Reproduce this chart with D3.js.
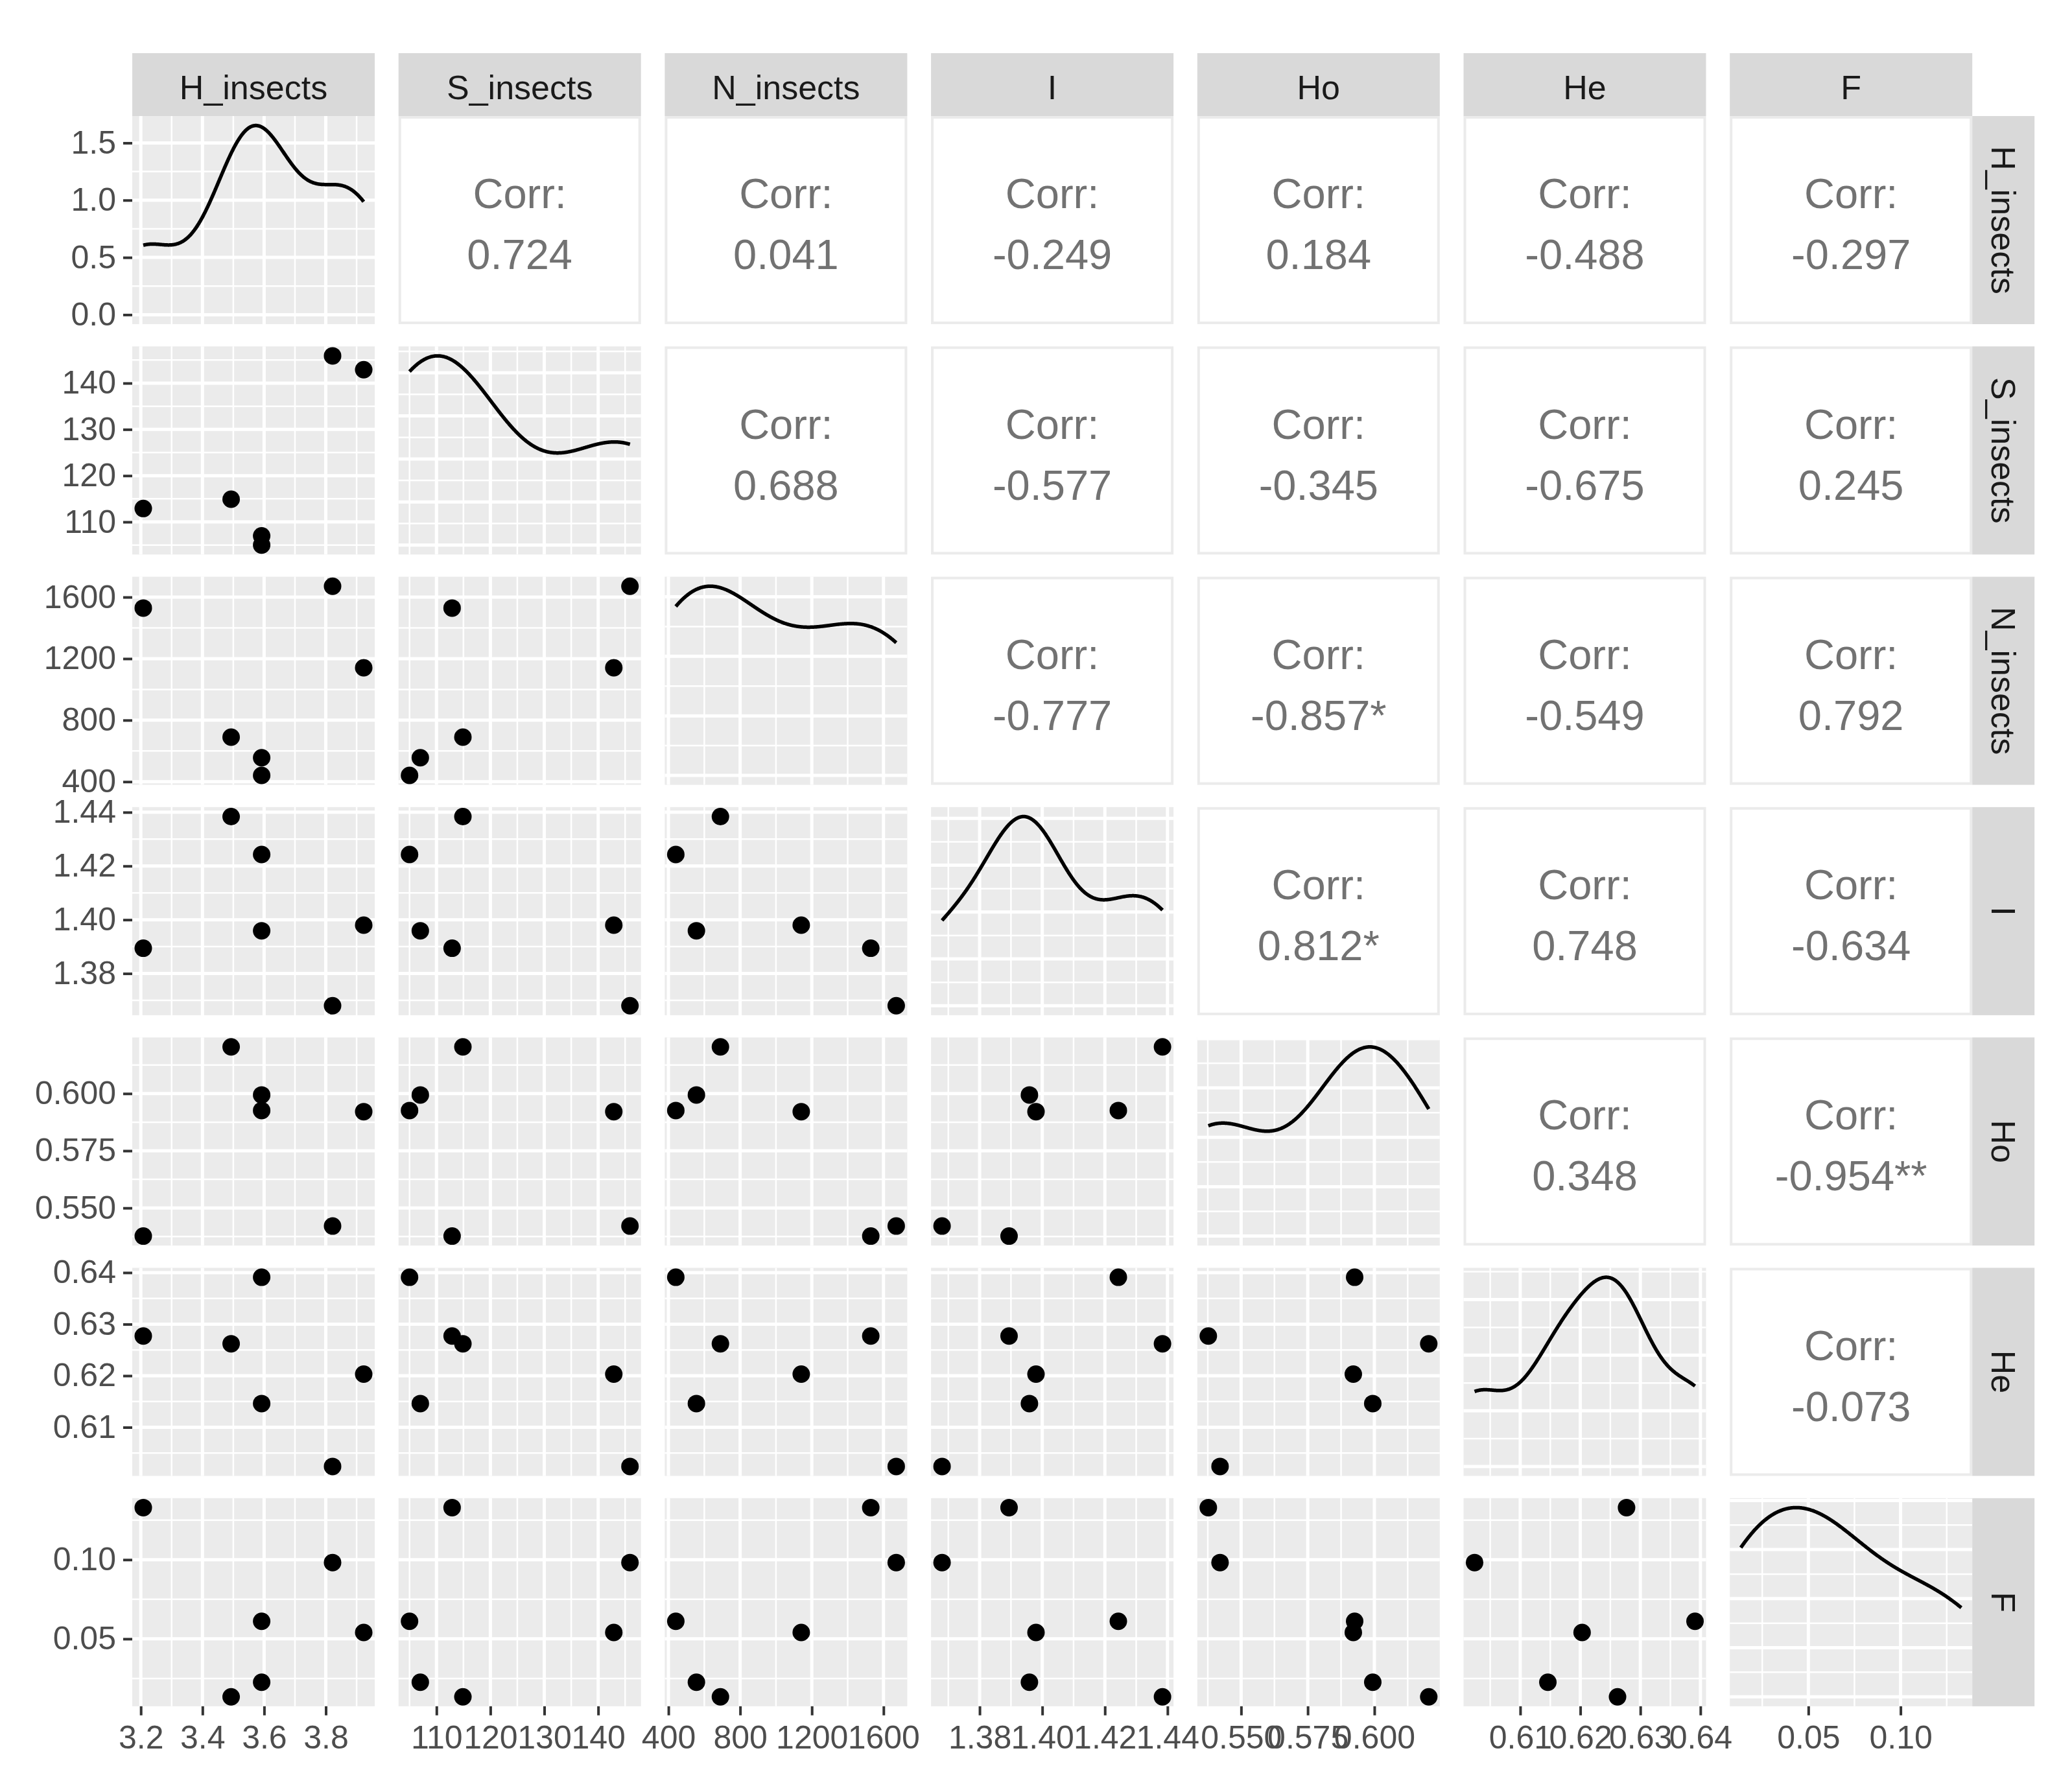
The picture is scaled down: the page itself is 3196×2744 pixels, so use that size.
<!DOCTYPE html>
<html>
<head>
<meta charset="utf-8">
<script src="https://cdn.jsdelivr.net/npm/d3@7"></script>
<style>
body { margin: 0; background: #fff; }
text { font-family: "Liberation Sans", Arial, Helvetica, sans-serif; }
</style>
</head>
<body>
<script>
var W = 3196, H = 2744;

// one value per site, same order in every array
var varNames = ['H_insects', 'S_insects', 'N_insects', 'I', 'Ho', 'He', 'F'];
var H_insects = [3.208, 3.493, 3.592, 3.592, 3.822, 3.923];
var S_insects = [112.9, 114.9, 107.0, 105.0, 145.9, 142.9];
var N_insects = [1529, 690, 556, 441, 1671, 1141];
var I_div = [1.3894, 1.4384, 1.3959, 1.4243, 1.3680, 1.3980];
var Ho = [0.5377, 0.6204, 0.5994, 0.5926, 0.5421, 0.5921];
var He = [0.6277, 0.6262, 0.6146, 0.6391, 0.6024, 0.6203];
var F = [0.1329, 0.0134, 0.0226, 0.0611, 0.0982, 0.0540];

// tick labels
var hTicks = ['3.2', '3.4', '3.6', '3.8'];
var sTicks = ['110', '120', '130', '140'];
var nTicks = ['400', '800', '1200', '1600'];
var iTicks = ['1.38', '1.40', '1.42', '1.44'];
var hoTicks = ['0.550', '0.575', '0.600'];
var heTicks = ['0.61', '0.62', '0.63', '0.64'];
var fTicks = ['0.05', '0.10'];
var densTicks = ['0.0', '0.5', '1.0', '1.5']; // y axis of the first diagonal

// upper triangle, row by row
var corrLabels = ['0.724', '0.041', '-0.249', '0.184', '-0.488', '-0.297',
    '0.688', '-0.577', '-0.345', '-0.675', '0.245',
    '-0.777', '-0.857*', '-0.549', '0.792',
    '0.812*', '0.748', '-0.634',
    '0.348', '-0.954**',
    '-0.073'];

var cols = [H_insects, S_insects, N_insects, I_div, Ho, He, F];
var ticks = [hTicks, sTicks, nTicks, iTicks, hoTicks, heTicks, fTicks];

// layout
var left0 = 204, stepX = 410.7, pw = 374,
    top0 = 179, stepY = 355.3, ph = 321,
    stripH = 97, stripW = 96,
    r = 13.5;

var bg = '#EBEBEB', stripFill = '#D9D9D9';

var svg = d3.select('body').append('svg')
    .attr('width', W)
    .attr('height', H);

svg.append('rect').attr('width', W).attr('height', H).attr('fill', '#fff');

function padded(ext) {
    var pad = (ext[1] - ext[0]) * 0.05;
    return [ext[0] - pad, ext[1] + pad];
}

var xScales = cols.map(function(v){
    return d3.scaleLinear().domain(padded(d3.extent(v))).range([0, pw]);
});
var yScales = cols.map(function(v){
    return d3.scaleLinear().domain(padded(d3.extent(v))).range([ph, 0]);
});

function minorBreaks(major, domain) {
    var step = major[1] - major[0];
    var ext = [major[0] - step].concat(major, [major[major.length - 1] + step]);
    var out = [];
    for (var i = 0; i < ext.length - 1; i++) out.push((ext[i] + ext[i + 1]) / 2);
    var lo = Math.min(domain[0], domain[1]), hi = Math.max(domain[0], domain[1]);
    return out.filter(function(d){ return d >= lo && d <= hi; });
}

// breaks the way ggplot picks them (labeling::extended)
function extendedBreaks(dmin, dmax, m) {
    var Q = [1, 5, 2, 2.5, 4, 3], w = [0.25, 0.2, 0.5, 0.05];
    var n = Q.length, eps = 1e-10, best = null, bestScore = -2;
    function mod(a, b) { return ((a % b) + b) % b; }
    function simplicity(i, j, lmin, lmax, lstep) {
        var v = ((mod(lmin, lstep) < eps || lstep - mod(lmin, lstep) < eps) && lmin <= 0 && lmax >= 0) ? 1 : 0;
        return 1 - i / (n - 1) - j + v;
    }
    function simplicityMax(i, j) { return 1 - i / (n - 1) - j + 1; }
    function coverage(lmin, lmax) {
        var rg = dmax - dmin;
        return 1 - 0.5 * (Math.pow(dmax - lmax, 2) + Math.pow(dmin - lmin, 2)) / Math.pow(0.1 * rg, 2);
    }
    function coverageMax(span) {
        var rg = dmax - dmin;
        if (span > rg) {
            var half = (span - rg) / 2;
            return 1 - 0.5 * (2 * half * half) / Math.pow(0.1 * rg, 2);
        }
        return 1;
    }
    function density(k, lmin, lmax) {
        var rr = (k - 1) / (lmax - lmin);
        var rt = (m - 1) / (Math.max(lmax, dmax) - Math.min(dmin, lmin));
        return 2 - Math.max(rr / rt, rt / rr);
    }
    function densityMax(k) { return k >= m ? 2 - (k - 1) / (m - 1) : 1; }

    var j = 1;
    outer:
    while (j < 50) {
        for (var i = 0; i < n; i++) {
            var q = Q[i];
            var sm = simplicityMax(i, j);
            if (w[0] * sm + w[1] + w[2] + w[3] < bestScore) break outer;
            var k = 2;
            while (k < 50) {
                var dm = densityMax(k);
                if (w[0] * sm + w[1] + w[2] * dm + w[3] < bestScore) break;
                var delta = (dmax - dmin) / (k + 1) / j / q;
                var z = Math.ceil(Math.log10(delta));
                while (z < 50) {
                    var step = j * q * Math.pow(10, z);
                    var cm = coverageMax(step * (k - 1));
                    if (w[0] * sm + w[1] * cm + w[2] * dm + w[3] < bestScore) break;
                    var minStart = Math.floor(dmax / step) * j - (k - 1) * j;
                    var maxStart = Math.ceil(dmin / step) * j;
                    if (minStart <= maxStart) {
                        for (var start = minStart; start <= maxStart; start++) {
                            var lmin = start * (step / j), lmax = lmin + step * (k - 1);
                            var score = w[0] * simplicity(i, j, lmin, lmax, step) +
                                w[1] * coverage(lmin, lmax) +
                                w[2] * density(k, lmin, lmax) + w[3];
                            if (score > bestScore) {
                                bestScore = score;
                                best = [lmin, lmax, step];
                            }
                        }
                    }
                    z++;
                }
                k++;
            }
        }
        j++;
    }
    var out = [];
    for (var v = best[0]; v <= best[1] + best[2] * 1e-6; v += best[2]) out.push(+v.toPrecision(12));
    return out;
}

// gaussian kde, bw.nrd0 like R
function bwNrd0(v) {
    var s = v.slice().sort(d3.ascending);
    var sd = d3.deviation(s);
    var iqr = d3.quantileSorted(s, 0.75) - d3.quantileSorted(s, 0.25);
    var lo = Math.min(sd, iqr / 1.34);
    if (!lo) lo = sd || Math.abs(s[0]) || 1;
    return 0.9 * lo * Math.pow(s.length, -0.2);
}
function kde(v) {
    var bw = bwNrd0(v), ext = d3.extent(v), n = 512;
    return d3.range(n).map(function(k){
        var x = ext[0] + (ext[1] - ext[0]) * k / (n - 1);
        var y = d3.mean(v, function(d){
            var z = (x - d) / bw;
            return Math.exp(-0.5 * z * z) / Math.sqrt(2 * Math.PI);
        }) / bw;
        return [x, y];
    });
}

var densities = cols.map(kde);
var densMax = densities.map(function(dd){ return d3.max(dd, function(d){ return d[1]; }); });
var densScales = densMax.map(function(mx){
    return d3.scaleLinear().domain(padded([0, mx])).range([ph, 0]);
});

function grid(g, xs, xMajor, ys, yMajor) {
    var xMinor = minorBreaks(xMajor, xs.domain()),
        yMinor = minorBreaks(yMajor, ys.domain());
    var xd = xs.domain(), yd = ys.domain();
    xMajor = xMajor.filter(function(d){ return d >= xd[0] && d <= xd[1]; });
    yMajor = yMajor.filter(function(d){ return d >= yd[0] && d <= yd[1]; });
    g.selectAll('.vmin').data(xMinor).enter().append('line')
        .attr('x1', xs).attr('x2', xs).attr('y1', 0).attr('y2', ph)
        .attr('stroke', '#fff').attr('stroke-width', 2.5);
    g.selectAll('.hmin').data(yMinor).enter().append('line')
        .attr('y1', ys).attr('y2', ys).attr('x1', 0).attr('x2', pw)
        .attr('stroke', '#fff').attr('stroke-width', 2.5);
    g.selectAll('.vmaj').data(xMajor).enter().append('line')
        .attr('x1', xs).attr('x2', xs).attr('y1', 0).attr('y2', ph)
        .attr('stroke', '#fff').attr('stroke-width', 5);
    g.selectAll('.hmaj').data(yMajor).enter().append('line')
        .attr('y1', ys).attr('y2', ys).attr('x1', 0).attr('x2', pw)
        .attr('stroke', '#fff').attr('stroke-width', 5);
}

var defs = svg.append('defs');
var k = 0;

for (var row = 0; row < 7; row++) {
    for (var col = 0; col < 7; col++) {
        var g = svg.append('g')
            .attr('transform', 'translate(' + (left0 + col * stepX) + ',' + (top0 + row * stepY) + ')');

        if (col > row) {
            // correlation panel
            g.append('rect')
                .attr('x', 2).attr('y', 2)
                .attr('width', pw - 4).attr('height', ph - 4)
                .attr('fill', '#fff')
                .attr('stroke', bg).attr('stroke-width', 4);
            var t = g.append('text')
                .attr('text-anchor', 'middle')
                .attr('font-size', 65)
                .attr('fill', '#727272');
            t.append('tspan').attr('x', pw / 2).attr('y', ph / 2 - 41).attr('dy', '0.35em').text('Corr:');
            t.append('tspan').attr('x', pw / 2).attr('y', ph / 2 + 53).attr('dy', '0.35em').text(corrLabels[k++]);
            continue;
        }

        var id = 'clip-' + row + '-' + col;
        defs.append('clipPath').attr('id', id)
            .append('rect').attr('width', pw).attr('height', ph);

        g.append('rect').attr('width', pw).attr('height', ph).attr('fill', bg);

        var xs = xScales[col];
        var xMajor = ticks[col].map(Number);

        if (row == col) {
            var ys = densScales[col];
            var yMajor = (col == 0) ? densTicks.map(Number) : extendedBreaks(0, densMax[col], 5);
            grid(g, xs, xMajor, ys, yMajor);
            g.append('path')
                .datum(densities[col])
                .attr('clip-path', 'url(#' + id + ')')
                .attr('fill', 'none')
                .attr('stroke', '#000')
                .attr('stroke-width', 5.5)
                .attr('stroke-linejoin', 'round')
                .attr('d', d3.line()
                    .x(function(d){ return xScales[col](d[0]); })
                    .y(function(d){ return densScales[col](d[1]); }));
        } else {
            var ys = yScales[row];
            grid(g, xs, xMajor, ys, ticks[row].map(Number));
            var xv = cols[col], yv = cols[row];
            g.append('g').attr('clip-path', 'url(#' + id + ')')
                .selectAll('circle')
                .data(d3.range(xv.length))
                .enter()
                .append('circle')
                .attr('cx', function(i){ return xs(xv[i]); })
                .attr('cy', function(i){ return ys(yv[i]); })
                .attr('r', r)
                .attr('fill', '#000');
        }
    }
}

function styleAxis(ax) {
    ax.select('.domain').remove();
    ax.attr('font-family', '"Liberation Sans", Arial, sans-serif')
        .attr('font-size', 50);
    ax.selectAll('.tick line').attr('stroke', '#333333').attr('stroke-width', 4);
    ax.selectAll('.tick text').attr('fill', '#4D4D4D');
}

// left axes
for (var row = 0; row < 7; row++) {
    var ys = (row == 0) ? densScales[0] : yScales[row];
    var labs = (row == 0) ? densTicks : ticks[row];
    var ax = svg.append('g')
        .attr('transform', 'translate(' + left0 + ',' + (top0 + row * stepY) + ')')
        .call(d3.axisLeft(ys)
            .tickValues(labs.map(Number))
            .tickFormat(function(d, i){ return labs[i]; })
            .tickSize(14)
            .tickPadding(11));
    styleAxis(ax);
}

// bottom axes
for (var col = 0; col < 7; col++) {
    var labs = ticks[col];
    var ax = svg.append('g')
        .attr('transform', 'translate(' + (left0 + col * stepX) + ',' + (top0 + 6 * stepY + ph) + ')')
        .call(d3.axisBottom(xScales[col])
            .tickValues(labs.map(Number))
            .tickFormat(function(d, i){ return labs[i]; })
            .tickSize(14)
            .tickPadding(16));
    styleAxis(ax);
}

// top strips
varNames.forEach(function(name, i){
    var sx = left0 + i * stepX;
    svg.append('rect')
        .attr('x', sx).attr('y', top0 - stripH)
        .attr('width', pw).attr('height', stripH)
        .attr('fill', stripFill);
    svg.append('text')
        .attr('x', sx + pw / 2).attr('y', top0 - stripH / 2 + 4)
        .attr('dy', '0.35em')
        .attr('text-anchor', 'middle')
        .attr('font-size', 52)
        .attr('fill', '#1A1A1A')
        .text(name);
});

// right strips
var rx = left0 + 6 * stepX + pw;
varNames.forEach(function(name, i){
    var sy = top0 + i * stepY;
    svg.append('rect')
        .attr('x', rx).attr('y', sy)
        .attr('width', stripW).attr('height', ph)
        .attr('fill', stripFill);
    svg.append('text')
        .attr('transform', 'translate(' + (rx + stripW / 2) + ',' + (sy + ph / 2) + ') rotate(90)')
        .attr('dy', '0.35em')
        .attr('text-anchor', 'middle')
        .attr('font-size', 52)
        .attr('fill', '#1A1A1A')
        .text(name);
});
</script>
</body>
</html>
